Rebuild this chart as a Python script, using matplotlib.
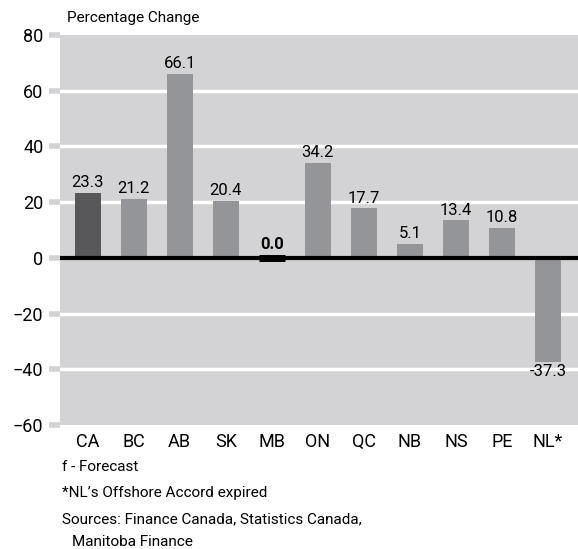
import matplotlib
matplotlib.use("Agg")
import matplotlib.pyplot as plt
from matplotlib import font_manager

categories = ["CA", "BC", "AB", "SK", "MB", "ON", "QC", "NB", "NS", "PE", "NL*"]
values = [23.3, 21.2, 66.1, 20.4, 0.0, 34.2, 17.7, 5.1, 13.4, 10.8, -37.3]
yticks = [-60, -40, -20, 0, 20, 40, 60, 80]

names = {f.name for f in font_manager.fontManager.ttflist}
fam = ["Liberation Sans Narrow", "DejaVu Sans"] if "Liberation Sans Narrow" in names else ["Roboto", "DejaVu Sans"]
plt.rcParams['font.family'] = fam

fig = plt.figure(figsize=(5.78, 5.49), dpi=100)
ax = fig.add_axes([0.1038, 0.2259, 0.8962, 0.7105])
bg = "#d3d3d5"
ax.set_facecolor(bg)
for s in ax.spines.values():
    s.set_visible(False)

x = list(range(len(categories)))
colors = ["#58585a"] + ["#939598"] * (len(categories) - 1)
ax.bar(x, values, width=0.56, color=colors, zorder=3)

for yv in yticks:
    if yv not in (0, -60, 80):
        ax.axhline(yv, color="white", lw=2.5, zorder=1)
ax.axhline(0, color="black", lw=3, zorder=4)

for xi, v in zip(x, values):
    if v == 0:
        ax.plot([xi - 0.28, xi + 0.28], [0, 0], color="black", lw=5, zorder=5, solid_capstyle="butt")
        ax.text(xi, v + 2.0, f"{v:.1f}", ha="center", va="bottom", fontsize=12, fontweight="bold", zorder=6)
    elif v > 0:
        ax.text(xi, v + 1.0, f"{v:.1f}", ha="center", va="bottom", fontsize=12, zorder=6)
    else:
        ax.text(xi, v - 0.8, f"{v:.1f}", ha="center", va="top", fontsize=12, zorder=6)

ax.set_xlim(-0.6, 10.65)
ax.set_ylim(-60, 80)
ax.set_yticks(yticks)
ax.set_yticklabels([str(t).replace("-", "\u2212") for t in yticks], fontsize=13)
ax.set_xticks(x)
ax.set_xticklabels(categories, fontsize=13)
ax.tick_params(axis="y", length=8, width=4, color=bg, pad=4)
ax.tick_params(axis="x", length=0, pad=6)

fig.text(0.116, 0.967, "Percentage Change", fontsize=11, ha="left", va="center")
fig.text(0.107, 0.150, "f - Forecast", fontsize=11, ha="left", va="center")
fig.text(0.107, 0.102, "*NL\u2019s Offshore Accord expired", fontsize=11, ha="left", va="center")
fig.text(0.107, 0.055, "Sources: Finance Canada, Statistics Canada,", fontsize=11, ha="left", va="center")
fig.text(0.124, 0.013, "Manitoba Finance", fontsize=11, ha="left", va="center")

fig.savefig("out.png", dpi=100, facecolor="white")
